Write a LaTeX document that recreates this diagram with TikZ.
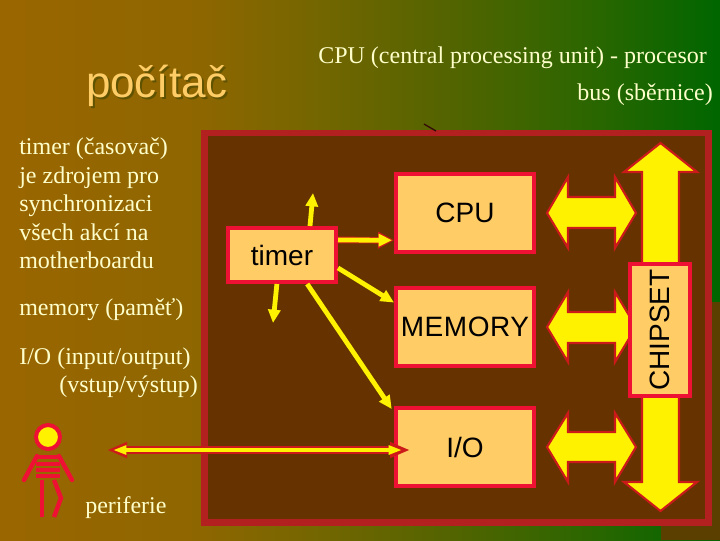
\documentclass[tikz,border=0pt]{standalone}
\usepackage{fontspec}
\setmainfont{Liberation Serif}
\newfontfamily\labelfont{Liberation Sans}
\usetikzlibrary{arrows.meta}
\definecolor{bgbrown}{HTML}{5A3F00}
\definecolor{boardfill}{HTML}{663300}
\definecolor{boardline}{HTML}{B2201F}
\definecolor{boxfill}{HTML}{FFCC66}
\definecolor{boxline}{HTML}{EE1133}
\definecolor{arrowline}{HTML}{CC1A1A}
\definecolor{notetext}{HTML}{FFFFCC}
\definecolor{titleshade}{HTML}{5F5200}
\definecolor{bgstart}{HTML}{9A6600}
\definecolor{bgb}{HTML}{8E6600}
\definecolor{bgc}{HTML}{786600}
\definecolor{bgd}{HTML}{506400}
\definecolor{bge}{HTML}{286600}
\definecolor{bgend}{HTML}{006600}
\pgfdeclarehorizontalshading{bgfade}{100bp}{
  color(0bp)=(bgstart); color(25bp)=(bgstart);
  color(38.9bp)=(bgb); color(45.8bp)=(bgc); color(56.9bp)=(bgd);
  color(66.7bp)=(bge); color(75bp)=(bgend); color(100bp)=(bgend)}
\tikzset{
  unitbox/.style={draw=boxline,fill=boxfill,line width=3pt,inner sep=0pt,text=black,font=\labelfont\fontsize{21}{21}\selectfont},
  note/.style={text=notetext,anchor=base west,inner sep=0pt,font=\fontsize{18}{21.4}\selectfont},
  titletext/.style={inner sep=0pt,font=\labelfont\fontsize{33}{33}\selectfont},
  busarrow/.style={draw=arrowline,fill=yellow,line width=1.6pt,line join=miter},
  thinarrow/.style={draw=yellow,line width=3.6pt,-{Triangle[length=10pt,width=9pt]}},
  haloarrow/.style={draw=arrowline,line width=5pt,-{Triangle[length=12pt,width=12pt]}},
  outerarrow/.style={draw=arrowline,line width=5.4pt,{Triangle[length=15pt,width=11pt]}-{Triangle[length=15pt,width=11pt]}},
  innerarrow/.style={draw=yellow,line width=3.2pt,{Triangle[length=10pt,width=6.5pt]}-{Triangle[length=10pt,width=6.5pt]}},
  figureline/.style={draw=boxline,line width=3.3pt}
}
\begin{document}
\begin{tikzpicture}[x=0.75pt,y=-0.75pt]
    \useasboundingbox (0,0) rectangle (720,540);
    \shade[shading=bgfade] (0,0) rectangle (720,540);
    \fill[bgbrown] (720,302) -- (712,302) -- (712,526) -- (661,526) -- (661,540) -- (720,540) -- cycle;
    \draw[boardline,fill=boardfill,line width=4.9pt] (204.5,133) rectangle (708.5,522.5);
    \coordinate (tickA) at (424,124);
    \coordinate (tickB) at (436,131);
    \draw[black!70!boardline,line width=1pt] (tickA) -- (tickB);
    % labels on the left and at the top
    \node[titletext,text=titleshade] (titleback) at (159,88) {počítač};
    \node[titletext,text=boxfill] (title) at (157,86) {počítač};
    \node[note] (cpunote) at (318,63) {CPU (central processing unit) - procesor};
    \node[note,anchor=base east] (busnote) at (713,100) {bus (sběrnice)};
    \node[note,align=left,anchor=north west] (timernote) at (19,137.5) {timer (časovač)\\je zdrojem pro\\synchronizaci\\všech akcí na\\motherboardu};
    \node[note] (memnote) at (19,315) {memory (paměť)};
    \node[note] (ionote) at (19,364) {I/O (input/output)};
    \node[note] (vstupnote) at (59,392) {(vstup/výstup)};
    \node[note] (perinote) at (85,513) {periferie};
    % bus
    \draw[busarrow] (660.5,143) -- (697,172) -- (679,172) -- (679,482) -- (697,482) -- (660.5,511) -- (624,482) -- (642,482) -- (642,172) -- (624,172) -- cycle;
    \draw[busarrow] (547,213) -- (568,177) -- (568,197) -- (615,197) -- (615,177) -- (636,213) -- (615,248) -- (615,228) -- (568,228) -- (568,248) -- cycle;
    \draw[busarrow] (547,327) -- (568,292) -- (568,312) -- (615,312) -- (615,292) -- (636,327) -- (615,362) -- (615,343) -- (568,343) -- (568,362) -- cycle;
    \draw[busarrow] (547,447) -- (568,413) -- (568,432) -- (615,432) -- (615,413) -- (636,447) -- (615,482) -- (615,462) -- (568,462) -- (568,482) -- cycle;
    % boxes
    \node[unitbox,minimum width=103.5pt,minimum height=58.5pt] (cpu) at (465,213) {CPU};
    \node[unitbox,minimum width=103.5pt,minimum height=58.5pt] (memory) at (465,327) {\addfontfeature{LetterSpace=2}MEMORY};
    \node[unitbox,minimum width=103.5pt,minimum height=58.5pt] (io) at (465,447) {I/O};
    \node[unitbox,minimum width=81pt,minimum height=40.5pt] (timer) at (282,255) {timer};
    \node[unitbox,minimum width=45pt,minimum height=99pt] (chipset) at (660,330) {\rotatebox{90}{CHIPSET}};
    % arrows from the timer
    \coordinate (timerup) at (313,193);
    \coordinate (timerdown) at (273,323);
    \draw[thinarrow] (timer.46) -- (timerup);
    \draw[thinarrow] (timer.-100) -- (timerdown);
    \draw[haloarrow] (timer.15) -- (cpu.201);
    \draw[thinarrow,shorten >=1.5pt] (timer.15) -- (cpu.201);
    \draw[thinarrow] (timer.-13) -- (memory.161);
    \draw[thinarrow,shorten >=3pt] (timer.-49) -- (io.154);
    % person and its link
    \coordinate (linkL) at (107,450);
    \coordinate (linkR) at (410,450);
    \coordinate (linkLin) at (113,450);
    \coordinate (linkRin) at (402,450);
    \draw[outerarrow] (linkL) -- (linkR);
    \draw[innerarrow] (linkLin) -- (linkRin);
    \node[circle,draw=boxline,fill=yellow,line width=3pt,minimum size=18pt,inner sep=0pt] (head) at (48,437) {};
    \draw[figureline,line cap=round] (37,456) -- (24,480);
    \draw[figureline,line cap=round] (59,456) -- (72,480);
    \foreach \ypos in {457,464,470,476}
      \draw[figureline] (36,\ypos) -- (60,\ypos);
    \draw[figureline] (42,480) -- (42,517);
    \draw[figureline] (54,480) -- (61,498) -- (54,517);
\end{tikzpicture}
\end{document}
